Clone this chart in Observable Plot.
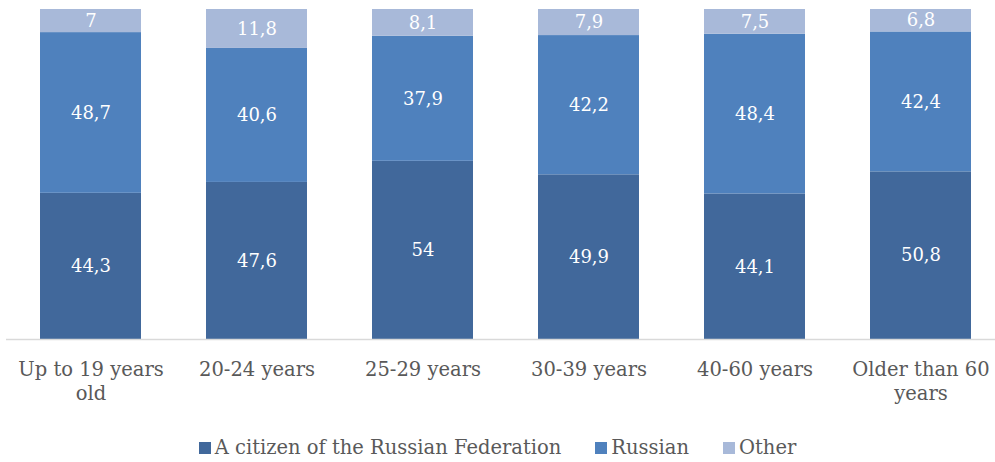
<!DOCTYPE html>
<html>
<head>
<meta charset="utf-8">
<script src="https://cdn.jsdelivr.net/npm/d3@7"></script>
<script src="https://cdn.jsdelivr.net/npm/@observablehq/plot@0.6"></script>
<style>
  html { overflow: hidden; }
  html, body { margin: 0; padding: 0; background: #fff; }
  #chart { width: 995px; height: 462px; position: relative; }
  .legend { position: absolute; left: 0; top: 436px; width: 995px; height: 24px; display: flex; justify-content: center; align-items: center;
    font-family: "DejaVu Serif", serif; font-size: 19.5px; color: #595959; line-height: 24px; }
  .legend .item { display: flex; align-items: center; margin: 0 17px; white-space: nowrap; }
  .legend .sw { width: 12px; height: 12px; margin-right: 4px; display: inline-block; }
</style>
</head>
<body>
<div id="chart"></div>
<script>
const groups = ["Up to 19 years old", "20-24 years", "25-29 years", "30-39 years", "40-60 years", "Older than 60 years"];
const tickLabels = ["Up to 19 years\nold", "20-24 years", "25-29 years", "30-39 years", "40-60 years", "Older than 60\nyears"];
const seriesNames = ["A citizen of the Russian Federation", "Russian", "Other"];
const citizen = [44.3, 47.6, 54, 49.9, 44.1, 50.8];
const russian = [48.7, 40.6, 37.9, 42.2, 48.4, 42.4];
const other = [7, 11.8, 8.1, 7.9, 7.5, 6.8];
const colors = ["#41689b", "#4f81bd", "#a8b9d9"];

const seriesValues = [citizen, russian, other];
const data = [];
seriesNames.forEach((s, si) => {
  groups.forEach((g, gi) => data.push({group: g, series: s, value: seriesValues[si][gi]}));
});
const fmt = v => String(v).replace(".", ",");
const labelOf = new Map(groups.map((g, i) => [g, tickLabels[i]]));

const font = "DejaVu Serif";
const chart = Plot.plot({
  width: 995,
  height: 420,
  marginTop: 9,
  marginBottom: 81,
  marginLeft: 6,
  marginRight: -10,
  style: {fontFamily: font, background: "#fff", overflow: "visible"},
  x: {domain: groups, paddingInner: 0.39, paddingOuter: 0.195, label: null},
  y: {domain: [0, 100], axis: null},
  color: {domain: seriesNames, range: colors},
  marks: [
    Plot.barY(data, Plot.stackY({x: "group", y: "value", fill: "series", order: seriesNames})),
    Plot.text(data, Plot.stackY({x: "group", y: "value", z: "series", order: seriesNames,
      text: d => fmt(d.value), fill: "white", fontSize: 18, fontFamily: font})),
    Plot.ruleY([0], {stroke: "#d9d9d9", strokeWidth: 1.3}),
    Plot.axisX({tickSize: 0, tickPadding: 19, tickFormat: g => labelOf.get(g), fontSize: 19.5,
      fill: "#595959", fontFamily: font, lineHeight: 1.23, textAnchor: "middle"})
  ]
});
document.getElementById("chart").appendChild(chart);

const legend = document.createElement("div");
legend.className = "legend";
seriesNames.forEach((s, i) => {
  const it = document.createElement("span");
  it.className = "item";
  const sw = document.createElement("span");
  sw.className = "sw";
  sw.style.background = colors[i];
  it.appendChild(sw);
  it.appendChild(document.createTextNode(s));
  legend.appendChild(it);
});
document.getElementById("chart").appendChild(legend);
</script>
</body>
</html>
